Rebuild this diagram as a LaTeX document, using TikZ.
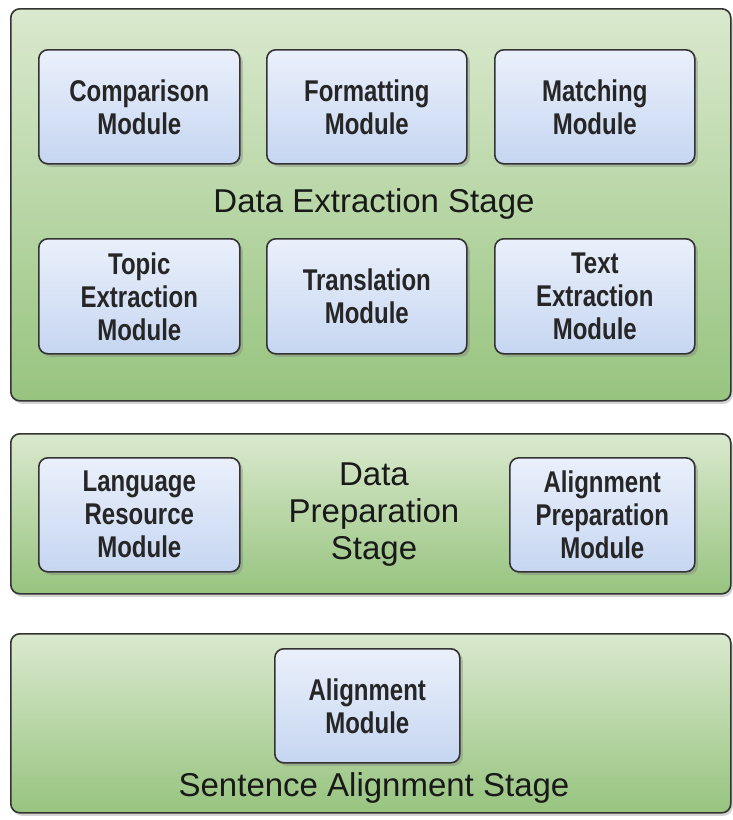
\documentclass[tikz,border=0pt]{standalone}
\usepackage{fontspec}
\setmainfont{Liberation Sans}
\newfontfamily\modfont[FakeStretch=0.8]{Liberation Sans}
\usetikzlibrary{shadows}
\definecolor{stagetop}{HTML}{DAE9CE}
\definecolor{stagebot}{HTML}{97C47F}
\definecolor{modtop}{HTML}{EAF0FB}
\definecolor{modbot}{HTML}{C6D6F1}
\definecolor{edge}{HTML}{333333}
\begin{document}
\begin{tikzpicture}[x=1pt,y=-1pt,
    stage/.style={draw=edge,line width=1.6pt,rounded corners=9pt,top color=stagetop,bottom color=stagebot,
        drop shadow={shadow xshift=2pt,shadow yshift=-3pt,opacity=0.35},anchor=north west,inner sep=0pt},
    module/.style={draw=edge,line width=1.6pt,rounded corners=9pt,top color=modtop,bottom color=modbot,
        drop shadow={shadow xshift=3pt,shadow yshift=-3pt,opacity=0.4},anchor=north west,inner sep=0pt,
        text=black!85,align=center,font=\modfont\bfseries\fontsize{30}{33}\selectfont},
    stagetext/.style={text=black!90,align=center,font=\fontsize{33}{37}\selectfont}]
    \useasboundingbox (0,0) rectangle (732,820);
    % stages
    \node[stage,minimum width=720pt,minimum height=392pt] (extract) at (10,8) {};
    \node[stage,minimum width=720pt,minimum height=160pt] (prep) at (10,433) {};
    \node[stage,minimum width=720pt,minimum height=179pt] (align) at (10,633) {};
    % data extraction
    \node[module,minimum width=201pt,minimum height=114pt] (compare) at (38,49) {Comparison\\Module};
    \node[module,minimum width=200pt,minimum height=114pt] (format) at (266,49) {Formatting\\Module};
    \node[module,minimum width=200pt,minimum height=114pt] (match) at (494,49) {Matching\\Module};
    \node[stagetext] (extractlbl) at (374,204) {Data Extraction Stage};
    \node[module,minimum width=201pt,minimum height=115pt] (topic) at (38,238) {Topic\\Extraction\\Module};
    \node[module,minimum width=200pt,minimum height=115pt] (translate) at (266,238) {Translation\\Module};
    \node[module,minimum width=200pt,minimum height=115pt] (textex) at (494,238) {Text\\Extraction\\Module};
    % data preparation
    \node[module,minimum width=201pt,minimum height=114pt] (langres) at (38,457) {Language\\Resource\\Module};
    \node[stagetext] (preplbl) at (374,515) {Data\\Preparation\\Stage};
    \node[module,minimum width=185pt,minimum height=114pt] (alprep) at (509,457) {Alignment\\Preparation\\Module};
    % sentence alignment
    \node[module,minimum width=185pt,minimum height=114pt] (almod) at (274,648) {Alignment\\Module};
    \node[stagetext] (alignlbl) at (374,788) {Sentence Alignment Stage};
\end{tikzpicture}
\end{document}
